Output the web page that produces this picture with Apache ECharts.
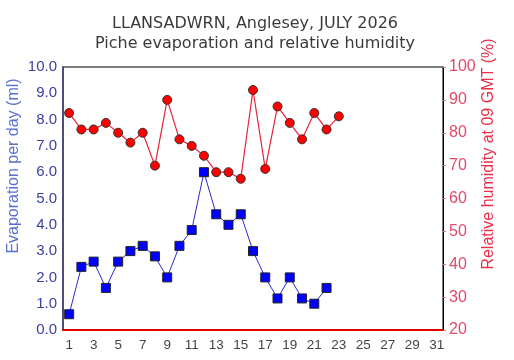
<!DOCTYPE html>
<html>
<head>
<meta charset="utf-8">
<script src="https://cdn.jsdelivr.net/npm/echarts@6/dist/echarts.min.js"></script>
<style>
  html, body { margin: 0; padding: 0; background: #fff; }
  #chart { width: 514px; height: 360px; }
</style>
</head>
<body>
<div id="chart"></div>
<script>
// days of July, evaporation (ml) and 09 GMT relative humidity (%)
const days = Array.from({ length: 31 }, (_, i) => String(i + 1))
const evaporation = [0.6, 2.4, 2.6, 1.6, 2.6, 3.0, 3.2, 2.8, 2.0, 3.2, 3.8, 6.0, 4.4, 4.0, 4.4, 3.0, 2.0, 1.2, 2.0, 1.2, 1.0, 1.6]
const humidity = [86, 81, 81, 83, 80, 77, 80, 70, 90, 78, 76, 73, 68, 68, 66, 93, 69, 88, 83, 78, 86, 81, 85]

const chart = echarts.init(document.getElementById('chart'))

chart.setOption({
  animation: false,
  backgroundColor: '#fff',
  title: {
    text: 'LLANSADWRN, Anglesey, JULY 2026\nPiche evaporation and relative humidity',
    left: 250,
    top: 9,
    textAlign: 'center',
    textStyle: {
      fontFamily: 'DejaVu Sans',
      fontSize: 16,
      fontWeight: 'normal',
      color: '#3a3a3a',
      lineHeight: 20
    }
  },
  // axis names sit a little above the middle of the plot, so they are placed by hand
  graphic: [
    {
      type: 'text',
      x: 14, y: 166,
      rotation: Math.PI / 2,
      style: {
        text: 'Evaporation per day (ml)',
        fill: '#5a6fd0',
        font: '16px "Liberation Sans"',
        textAlign: 'center',
        textVerticalAlign: 'middle'
      }
    },
    {
      type: 'text',
      x: 489, y: 154,
      rotation: Math.PI / 2,
      style: {
        text: 'Relative humidity at 09 GMT (%)',
        fill: '#e8304a',
        font: '16px "Liberation Sans"',
        textAlign: 'center',
        textVerticalAlign: 'middle'
      }
    }
  ],
  grid: {
    left: 63, right: 71, top: 67, bottom: 30,
    show: true,
    borderColor: '#000',
    borderWidth: 1
  },
  xAxis: {
    type: 'category',
    data: days,
    boundaryGap: true,
    axisLine: { lineStyle: { color: '#e00000', width: 2 } },
    axisTick: { show: false },
    axisLabel: {
      interval: 1,
      color: '#444',
      fontFamily: 'Liberation Sans',
      fontSize: 13.5,
      margin: 8
    },
    splitLine: { show: false }
  },
  yAxis: [
    {
      type: 'value',
      min: 0, max: 10, interval: 1,
      axisLine: { show: true, lineStyle: { color: '#4e4e7a', width: 2 } },
      axisTick: { show: false },
      axisLabel: {
        color: '#3b3fa0',
        fontFamily: 'Liberation Sans',
        fontSize: 15,
        margin: 6,
        formatter: v => v.toFixed(1)
      },
      splitLine: { show: false }
    },
    {
      type: 'value',
      min: 20, max: 100, interval: 10,
      position: 'right',
      axisLine: { show: true, lineStyle: { color: '#000', width: 1 } },
      axisTick: { show: true, length: 3, lineStyle: { color: '#e07088' } },
      axisLabel: {
        color: '#e04a6a',
        fontFamily: 'Liberation Sans',
        fontSize: 16,
        margin: 6
      },
      splitLine: { show: false }
    }
  ],
  series: [
    {
      name: 'Evaporation',
      type: 'line',
      yAxisIndex: 0,
      data: evaporation,
      showAllSymbol: true,
      symbol: 'rect',
      symbolSize: 9,
      lineStyle: { color: '#2a2ad0', width: 1 },
      itemStyle: { color: '#0000ff', borderColor: '#222', borderWidth: 1 },
      z: 3
    },
    {
      name: 'Humidity',
      type: 'line',
      yAxisIndex: 1,
      data: humidity,
      showAllSymbol: true,
      symbol: 'circle',
      symbolSize: 9,
      lineStyle: { color: '#e8203a', width: 1.2 },
      itemStyle: { color: '#ff0000', borderColor: '#333', borderWidth: 1 },
      z: 4
    }
  ]
})
</script>
</body>
</html>
